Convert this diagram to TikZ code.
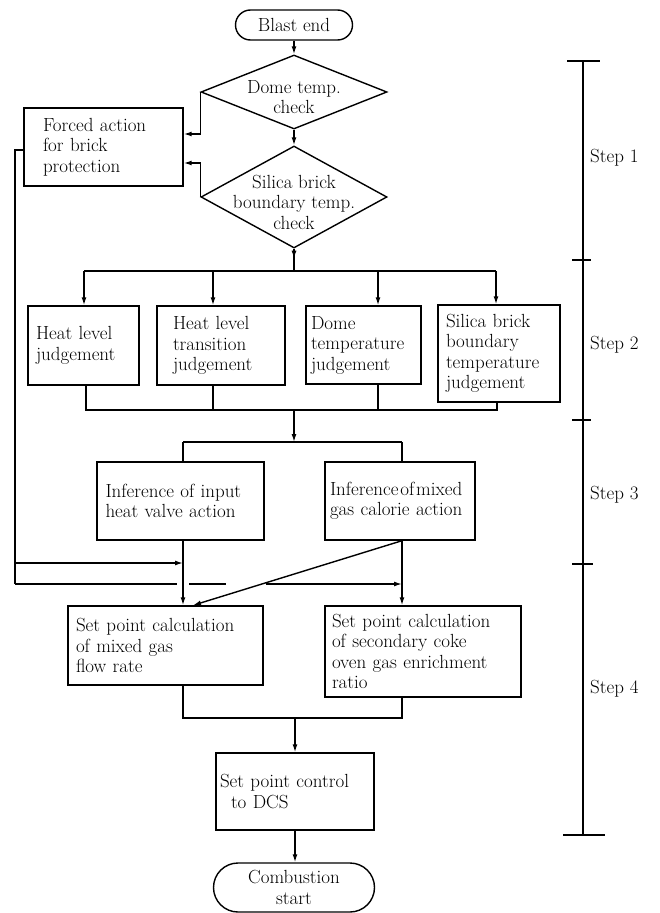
\documentclass[tikz,border=0pt]{standalone}
\usepackage{fontspec}
\usetikzlibrary{shapes.geometric,arrows.meta,calc}
\begin{document}
\begin{tikzpicture}[x=1pt,y=-1pt,
  every node/.style={font=\fontsize{19pt}{20.5pt}\selectfont},
  line/.style={line width=1.4pt},
  arr/.style={line width=1.4pt,-{Latex[length=8pt,width=5pt]}},
  box/.style={draw,line width=1.4pt,rectangle,align=left,inner ysep=0pt},
  pill/.style={draw,line width=1.4pt,rectangle,align=center,inner sep=0pt},
  dia/.style={draw,line width=1.4pt,diamond,inner sep=0pt},
  ctext/.style={align=center,inner sep=0pt},
  lbl/.style={anchor=west,inner sep=0pt}
]
\useasboundingbox (0,0) rectangle (659,913);

% ---- Step 1 ----
\node[pill,minimum width=117pt,minimum height=30pt,rounded corners=15pt] (blast) at (294,25) {Blast end};
\node[dia,minimum width=186pt,minimum height=74pt] (dome) at (294,92) {};
\node[ctext] (dometxt) at (294,97) {Dome temp.\\check};
\node[dia,minimum width=186pt,minimum height=102pt] (sil) at (294,197) {};
\node[ctext] (siltxt) at (294,202) {Silica brick\\boundary temp.\\check};
\node[box,text width=121pt,inner xsep=19pt,minimum height=78pt] (fa) at (103.5,147) {Forced action\\for brick\\protection};

\draw[arr] (blast.south) -- (blast.south |- dome.north);
\draw[arr] (dome.south) -- (sil.north);
\draw[arr] (dome.west) |- ($(fa.east)+(0,-13)$);
\draw[arr] (sil.west) |- ($(fa.east)+(0,16)$);

% ---- Step 2 ----
\node[box,text width=95pt,inner xsep=8pt,minimum height=79pt] (b1) at (83.5,345.5) {Heat level\\judgement};
\node[box,text width=96pt,inner xsep=16pt,minimum height=79pt] (b2) at (221,345.5) {Heat level\\transition\\judgement};
\node[box,text width=105pt,inner xsep=5pt,minimum height=78pt] (b3) at (363.5,345) {Dome\\temperature\\judgement};
\node[box,text width=106pt,inner xsep=8pt,minimum height=97pt] (b4) at (499,353.5) {Silica brick\\boundary\\temperature\\judgement};

\coordinate (bL) at (84,271);
\coordinate (b2t) at (213,271);
\coordinate (b3t) at (378,271);
\coordinate (bR) at (496,271);
\draw[line] (sil.south) -- (sil.south |- bL);
\draw[arr] (sil.south) -- ++(0,10);
\draw[line] (bL) -- (bR);
\draw[arr] (bL) -- (bL |- b1.north);
\draw[arr] (b2t) -- (b2t |- b2.north);
\draw[arr] (b3t) -- (b3t |- b3.north);
\draw[arr] (bR) -- (bR |- b4.north);

\coordinate (c1) at (86,410);
\coordinate (c2) at (213,410);
\coordinate (c3) at (378,410);
\coordinate (c4) at (497,410);
\coordinate (cm) at (294,410);
\draw[line] (c1 |- b1.south) -- (c1) -- (c4) -- (c4 |- b4.south);
\draw[line] (c2 |- b2.south) -- (c2);
\draw[line] (c3 |- b3.south) -- (c3);

% ---- Step 3 ----
\node[box,text width=150pt,inner xsep=8.5pt,minimum height=78pt] (inA) at (180.5,501) {Inference of input\\heat valve action};
\node[box,text width=140pt,inner xsep=5pt,minimum height=78pt] (inB) at (400,501) {Inference\kern.1em of\kern.1em mixed\\gas calorie action};

\coordinate (jA) at (183,442);
\coordinate (jB) at (402,442);
\coordinate (jm) at (294,442);
\draw[arr] (cm) -- (jm);
\draw[line] (jA) -- (jB);
\draw[line] (jA) -- (jA |- inA.north);
\draw[line] (jB) -- (jB |- inB.north);

% ---- Step 4 ----
\node[box,text width=179pt,inner xsep=8pt,minimum height=79pt] (spA) at (165.5,645.5) {Set point calculation\\of mixed gas\\flow rate};
\node[box,text width=182pt,inner xsep=7pt,minimum height=91pt] (spB) at (423,651.5) {Set point calculation\\of secondary coke\\oven gas enrichment\\ratio};

\draw[arr] (jA |- inA.south) -- (jA |- spA.north);
\draw[arr] (jB |- inB.south) -- (jB |- spB.north);
\draw[arr] (jB |- inB.south) -- ($(jA |- spA.north)+(10,0)$);

% feedback from forced action
\coordinate (fm) at (15,563);
\coordinate (fb) at (15,584);
\draw[line] ($(fa.west)+(0,3)$) -| (fb);
\draw[arr] (fm) -- (jA |- fm);
\draw[line] (fb) -- ($(jA |- fb)+(-6,0)$);
\draw[line] ($(jA |- fb)+(6,0)$) -- ($(jA |- fb)+(43,0)$);
\draw[arr] ($(jA |- fb)+(83,0)$) -- (jB |- fb);

\node[box,text width=150pt,inner xsep=4pt,minimum height=77pt] (dcs) at (295,791.5) {Set point control\\\hspace*{11pt}to DCS};
\node[pill,minimum width=161pt,minimum height=49pt,rounded corners=24.5pt] (comb) at (294,887.5) {Combustion\\start};

\coordinate (kA) at (183,718);
\coordinate (kB) at (402,718);
\coordinate (km) at (295,718);
\draw[line] (jA |- spA.south) -- (kA) -- (kB) -- (jB |- spB.south);
\draw[arr] (km) -- (dcs.north);
\draw[arr] (dcs.south) -- (dcs.south |- comb.north);

% ---- Step bar ----
\coordinate (sT) at (583,61);
\coordinate (s12) at (583,260);
\coordinate (s23) at (583,420);
\coordinate (s34) at (583,564);
\coordinate (sB) at (583,835);
\draw[line] (sT) -- (sB);
\draw[line] ($(sT)+(-16,0)$) -- ($(sT)+(17,0)$);
\draw[line] ($(s12)+(-11,0)$) -- ($(s12)+(8,0)$);
\draw[line] ($(s23)+(-11,0)$) -- ($(s23)+(8,0)$);
\draw[line] ($(s34)+(-11,0)$) -- ($(s34)+(10,0)$);
\draw[line] ($(sB)+(-20,0)$) -- ($(sB)+(22,0)$);
\node[lbl] (st1) at (590,158) {Step 1};
\node[lbl] (st2) at (590,345) {Step 2};
\node[lbl] (st3) at (590,495) {Step 3};
\node[lbl] (st4) at (590,689) {Step 4};
\end{tikzpicture}
\end{document}
